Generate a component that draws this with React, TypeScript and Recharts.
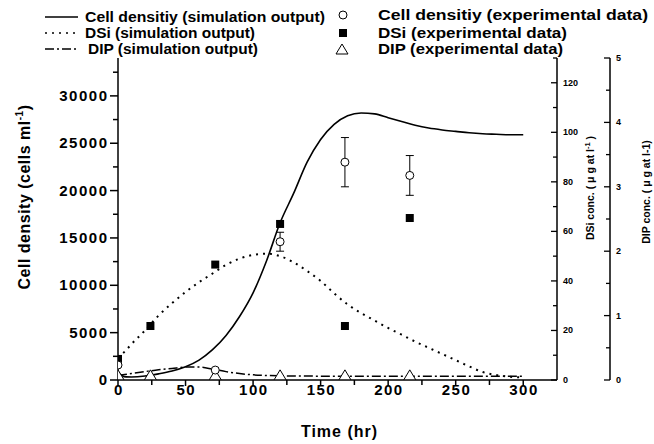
import {
  ComposedChart,
  Line,
  Scatter,
  ErrorBar,
  XAxis,
  YAxis,
  Legend,
  Label,
} from "recharts";

// simulation outputs (hr)
const simTime = [
  0, 3, 6, 10, 20, 30, 40, 50, 60, 70, 80, 90, 100, 110, 120, 130, 140, 150,
  160, 170, 180, 190, 200, 210, 220, 230, 240, 250, 260, 270, 280, 290, 300,
];
const cellSim = [
  900, 450, 330, 320, 420, 650, 950, 1400, 2100, 3200, 4700, 6700, 9200,
  12600, 16600, 19700, 23000, 25400, 27000, 27900, 28200, 28100, 27700, 27300,
  26900, 26600, 26400, 26250, 26100, 26000, 25950, 25900, 25900,
];
const dsiTime = [
  0, 5, 10, 20, 30, 40, 50, 60, 70, 80, 90, 100, 110, 120, 130, 140, 150, 160,
  170, 180, 190, 200, 210, 220, 230, 240, 250, 260, 270, 280, 290, 300,
];
const dsiSim = [
  9, 11.5, 14.5, 20, 26, 31, 35.5, 39.5, 43, 46.5, 49, 50.5, 51, 50, 47.5, 44,
  40, 35, 30.5, 27, 24, 21, 18.3, 15.5, 13, 10.5, 8, 5.5, 3.2, 2, 1.3, 1,
];
const dipTime = [0, 10, 20, 30, 40, 50, 60, 70, 80, 90, 100, 110, 120, 150, 200, 250, 300];
const dipSim = [
  0.07, 0.1, 0.13, 0.16, 0.18, 0.2, 0.2, 0.17, 0.13, 0.1, 0.08, 0.07, 0.065,
  0.06, 0.06, 0.06, 0.06,
];

// experimental data
const expTime = [0, 24, 72, 120, 168, 216];
const cellExp = [1580, null, 1050, 14600, 23000, 21600];
const cellErr = [undefined, undefined, undefined, 1000, 2600, 2100];
const dsiExp = [8.5, 21.8, 46.6, 63, 21.8, 65.4];
const dipExp = [0.08, 0.08, 0.08, 0.08, 0.08, 0.08];

const xTicks = [0, 25, 50, 75, 100, 125, 150, 175, 200, 225, 250, 275, 300];
const cellTicks = [
  0, 2500, 5000, 7500, 10000, 12500, 15000, 17500, 20000, 22500, 25000, 27500,
  30000, 32500,
];
const dsiTicks = [0, 10, 20, 30, 40, 50, 60, 70, 80, 90, 100, 110, 120, 130];
const dipTicks = [0, 0.5, 1, 1.5, 2, 2.5, 3, 3.5, 4, 4.5, 5];

const cellLine = simTime.map((t, i) => ({ t, v: cellSim[i] }));
const dsiLine = dsiTime.map((t, i) => ({ t, v: dsiSim[i] }));
const dipLine = dipTime.map((t, i) => ({ t, v: dipSim[i] }));
const cellPts = expTime
  .map((t, i) => ({ t, v: cellExp[i], err: cellErr[i] }))
  .filter((d) => d.v !== null);
const dsiPts = expTime.map((t, i) => ({ t, v: dsiExp[i] }));
const dipPts = expTime.map((t, i) => ({ t, v: dipExp[i] }));

const FONT = "'Liberation Sans', Arial, Helvetica, sans-serif";
const DOTTED = "2 5";
const DASHDOT = "9 3 2 3";

// axis ids: r1 sits next to the plot, r2 outside it
const DSI = "r1";
const DIP = "r2";

const XTick = (p: any) => {
  const major = p.payload.value % 50 === 0;
  return (
    <g>
      <line x1={p.x} x2={p.x} y1={p.y} y2={p.y + (major ? 6 : 5)} stroke="#000" strokeWidth={1.5} />
      {major && (
        <text x={p.x + 0.8} y={p.y + 15} textAnchor="middle" fontSize={15} fontWeight="bold" letterSpacing={1.5} fontFamily={FONT}>
          {p.payload.value}
        </text>
      )}
    </g>
  );
};

const CellTick = (p: any) => {
  const major = p.payload.value % 5000 === 0;
  return (
    <g>
      <line x1={p.x} x2={p.x - (major ? 8 : 5)} y1={p.y} y2={p.y} stroke="#000" strokeWidth={1.5} />
      {major && (
        <text x={p.x - 9.5} y={p.y + 5} textAnchor="end" fontSize={15} fontWeight="bold" letterSpacing={1.5} fontFamily={FONT}>
          {p.payload.value}
        </text>
      )}
    </g>
  );
};

const makeRightTick = (step: number) => (p: any) => {
  const major = Math.abs(p.payload.value / step - Math.round(p.payload.value / step)) < 1e-6;
  return (
    <g>
      <line x1={p.x} x2={p.x - (major ? 6 : 4)} y1={p.y} y2={p.y} stroke="#000" strokeWidth={1.3} />
      {major && (
        <text x={p.x + 6} y={p.y + 3} textAnchor="start" fontSize={9} fontWeight="bold" fontFamily={FONT}>
          {p.payload.value}
        </text>
      )}
    </g>
  );
};
const DsiTick = makeRightTick(20);
const DipTick = makeRightTick(1);

const OpenCircle = (p: any) => (
  <circle cx={p.cx} cy={p.cy} r={4} fill="#fff" stroke="#000" strokeWidth={1} />
);
const FilledSquare = (p: any) => (
  <rect x={p.cx - 4} y={p.cy - 4} width={8} height={8} fill="#000" />
);
const OpenTriangle = (p: any) => (
  <path
    d={`M${p.cx},${p.cy - 5}L${p.cx + 6},${p.cy + 5}L${p.cx - 6},${p.cy + 5}Z`}
    fill="#fff"
    stroke="#000"
    strokeWidth={1}
  />
);

const LegendBox = () => {
  const txt = {
    fontSize: 14,
    fontWeight: "bold" as const,
    fontFamily: FONT,
    lengthAdjust: "spacingAndGlyphs",
  };
  return (
    <svg width={654} height={60}>
      <line x1={45} x2={78} y1={17} y2={17} stroke="#000" strokeWidth={1.5} />
      <text x={85} y={22} textLength={240} {...txt}>Cell densitiy (simulation output)</text>
      <line x1={45} x2={78} y1={33} y2={33} stroke="#000" strokeWidth={1.5} strokeDasharray={DOTTED} />
      <text x={85} y={38} textLength={170} {...txt}>DSi (simulation output)</text>
      <line x1={45} x2={78} y1={49} y2={49} stroke="#000" strokeWidth={1.5} strokeDasharray={DASHDOT} />
      <text x={88} y={54} textLength={170} {...txt}>DIP (simulation output)</text>
      <OpenCircle cx={343} cy={15} />
      <text x={378} y={20} textLength={270} {...txt}>Cell densitiy (experimental data)</text>
      <FilledSquare cx={343} cy={33} />
      <text x={378} y={38} textLength={189} {...txt}>DSi (experimental data)</text>
      <OpenTriangle cx={342} cy={49} />
      <text x={378} y={54} textLength={185} {...txt}>DIP (experimental data)</text>
    </svg>
  );
};

export default function App() {
  return (
    <div style={{ position: "absolute", left: 0, top: 0, width: 654, height: 444, background: "#fff" }}>
      <ComposedChart width={654} height={444} margin={{ top: 58, right: 0, bottom: 0, left: 0 }}>
        <XAxis
          dataKey="t"
          type="number"
          domain={[0, 325]}
          ticks={xTicks}
          interval={0}
          height={64}
          tickSize={0}
          tickMargin={0}
          tickLine={false}
          tick={<XTick />}
          axisLine={{ stroke: "#000", strokeWidth: 1.5 }}
          allowDataOverflow
        >
          <Label
            content={(p: any) => (
              <text
                x={p.viewBox.x + p.viewBox.width / 2 + 2}
                y={p.viewBox.y + 57}
                textAnchor="middle"
                fontSize={16}
                fontWeight="bold"
                letterSpacing={1}
                fontFamily={FONT}
              >
                Time (hr)
              </text>
            )}
          />
        </XAxis>
        <YAxis
          yAxisId="cell"
          orientation="left"
          width={118}
          domain={[0, 34000]}
          ticks={cellTicks}
          interval={0}
          tickSize={0}
          tickMargin={0}
          tickLine={false}
          tick={<CellTick />}
          axisLine={{ stroke: "#000", strokeWidth: 1.5 }}
          allowDataOverflow
        >
          <Label
            content={(p: any) => {
              const cx = p.viewBox.x + 25;
              const cy = p.viewBox.y + p.viewBox.height / 2 - 22;
              return (
                <text
                  transform={`translate(${cx},${cy}) rotate(-90)`}
                  textAnchor="middle"
                  fontSize={16}
                  fontWeight="bold"
                  letterSpacing={0.5}
                  fontFamily={FONT}
                  dy={5}
                >
                  Cell density (cells ml<tspan fontSize={10} dy={-7}>-1</tspan>
                  <tspan dy={7}>)</tspan>
                </text>
              );
            }}
          />
        </YAxis>
        <YAxis
          yAxisId={DSI}
          orientation="right"
          width={53}
          domain={[0, 130]}
          ticks={dsiTicks}
          interval={0}
          tickSize={0}
          tickMargin={0}
          tickLine={false}
          tick={<DsiTick />}
          axisLine={{ stroke: "#000", strokeWidth: 1.5 }}
          allowDataOverflow
        >
          <Label
            content={(p: any) => {
              const cx = p.viewBox.x + 34;
              const cy = p.viewBox.y + p.viewBox.height / 2 - 31;
              return (
                <text
                  transform={`translate(${cx},${cy}) rotate(-90)`}
                  textAnchor="middle"
                  fontSize={10.5}
                  fontWeight="bold"
                  fontFamily={FONT}
                  dy={3}
                >
                  DSi conc. ( μ g at l<tspan fontSize={7.5} dy={-4}>-1</tspan>
                  <tspan dy={4}> )</tspan>
                </text>
              );
            }}
          />
        </YAxis>
        <YAxis
          yAxisId={DIP}
          orientation="right"
          width={44}
          domain={[0, 5]}
          ticks={dipTicks}
          interval={0}
          tickSize={0}
          tickMargin={0}
          tickLine={false}
          tick={<DipTick />}
          axisLine={{ stroke: "#000", strokeWidth: 1.5 }}
          allowDataOverflow
        >
          <Label
            content={(p: any) => {
              const cx = p.viewBox.x + 37;
              const cy = p.viewBox.y + p.viewBox.height / 2 - 27;
              return (
                <text
                  transform={`translate(${cx},${cy}) rotate(-90)`}
                  textAnchor="middle"
                  fontSize={10.5}
                  fontWeight="bold"
                  fontFamily={FONT}
                  dy={3}
                >
                  DIP conc. ( μ g at l-1)
                </text>
              );
            }}
          />
        </YAxis>
        <Legend
          layout="vertical"
          align="center"
          verticalAlign="middle"
          wrapperStyle={{ position: "absolute", top: 0, left: 0, width: 654, height: 60 }}
          content={<LegendBox />}
        />

        <Line
          yAxisId="cell"
          data={cellLine}
          dataKey="v"
          type="monotone"
          stroke="#000"
          strokeWidth={1.6}
          dot={false}
          activeDot={false}
          isAnimationActive={false}
        />
        <Line
          yAxisId={DSI}
          data={dsiLine}
          dataKey="v"
          type="monotone"
          stroke="#000"
          strokeWidth={2}
          strokeDasharray={DOTTED}
          dot={false}
          activeDot={false}
          isAnimationActive={false}
        />
        <Line
          yAxisId={DIP}
          data={dipLine}
          dataKey="v"
          type="monotone"
          stroke="#000"
          strokeWidth={1.5}
          strokeDasharray={DASHDOT}
          dot={false}
          activeDot={false}
          isAnimationActive={false}
        />
        <Scatter
          yAxisId={DIP}
          data={dipPts}
          dataKey="v"
          shape={<OpenTriangle />}
          isAnimationActive={false}
        />
        <Scatter
          yAxisId={DSI}
          data={dsiPts}
          dataKey="v"
          shape={<FilledSquare />}
          isAnimationActive={false}
        />
        <Scatter
          yAxisId="cell"
          data={cellPts}
          dataKey="v"
          shape={<OpenCircle />}
          isAnimationActive={false}
        >
          <ErrorBar dataKey="err" direction="y" width={4} stroke="#000" strokeWidth={1} isAnimationActive={false} />
        </Scatter>
      </ComposedChart>
    </div>
  );
}
